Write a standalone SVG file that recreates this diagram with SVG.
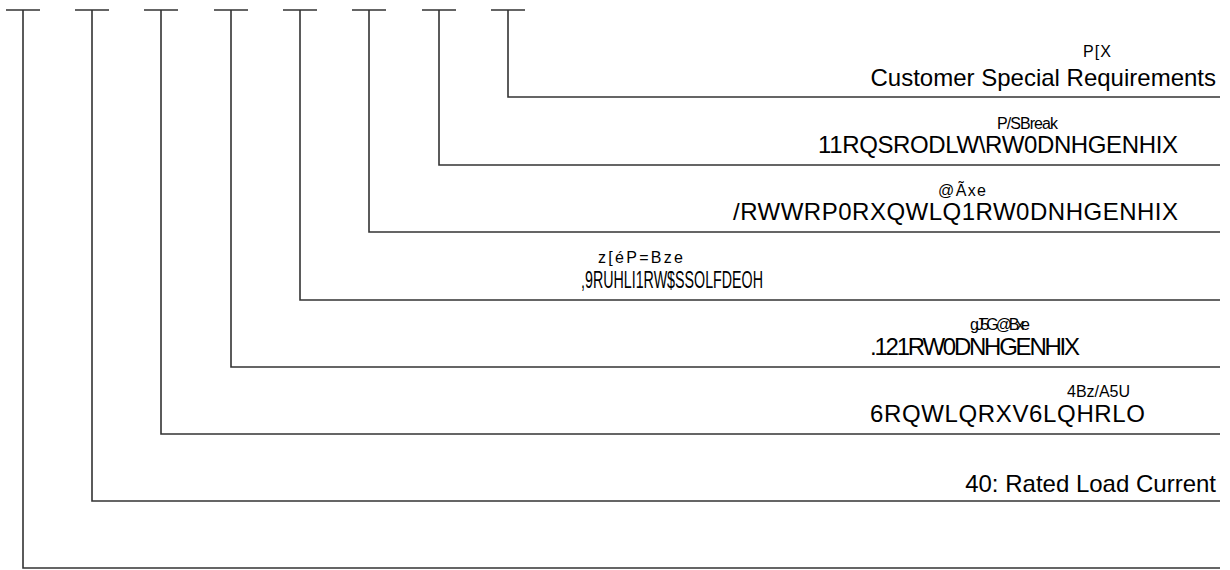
<svg xmlns="http://www.w3.org/2000/svg" width="1230" height="570" viewBox="0 0 1230 570">
<style>
.c{fill:none;stroke:#333;stroke-width:1.6}
.t{font-family:"Liberation Sans",Arial,sans-serif;font-size:24px;fill:#000}
.s{font-family:"Liberation Sans",Arial,sans-serif;font-size:16px;fill:#000}
</style>
<rect width="1230" height="570" fill="#fff"/>
<g id="connectors">
<path class="c" d="M6 10H40M23 10V568H1220"/>
<path class="c" d="M75 10H109M92 10V501H1220"/>
<path class="c" d="M144 10H178M161 10V434H1220"/>
<path class="c" d="M214 10H248M231 10V367H1220"/>
<path class="c" d="M283 10H317M300 10V300H1220"/>
<path class="c" d="M352 10H386M369 10V232H1220"/>
<path class="c" d="M422 10H456M439 10V165H1220"/>
<path class="c" d="M491 10H525M508 10V97H1220"/>
</g>
<g id="n1"><text class="t" x="1216" y="492" text-anchor="end">40: Rated Load Current</text></g>
<g id="n2"><text class="s" x="1067" y="397" textLength="63" lengthAdjust="spacing">4Bz/A5U</text>
<text class="t" x="870" y="422" textLength="275" lengthAdjust="spacing">6RQWLQRXV6LQHRLO</text></g>
<g id="n3"><text class="s" x="970" y="330" textLength="60" lengthAdjust="spacing">gJ5G@Bxe</text>
<text class="t" x="870" y="355" textLength="210" lengthAdjust="spacing">.121RW0DNHGENHIX</text></g>
<g id="n4"><text class="s" x="598" y="263" textLength="85" lengthAdjust="spacing">z[éP=Bze</text>
<text class="t" x="581" y="288" textLength="182" lengthAdjust="spacingAndGlyphs">,9RUHLI1RW$SSOLFDEOH</text></g>
<g id="n5"><text class="s" x="938" y="196" textLength="48" lengthAdjust="spacing">@Ãxe</text>
<text class="t" x="733" y="220" textLength="445" lengthAdjust="spacing">/RWWRP0RXQWLQ1RW0DNHGENHIX</text></g>
<g id="n6"><text class="s" x="997" y="129" textLength="61" lengthAdjust="spacing">P/SBreak</text>
<text class="t" x="818" y="153" textLength="360" lengthAdjust="spacing">11RQSRODLW\RW0DNHGENHIX</text></g>
<g id="n7"><text class="s" x="1083" y="57" textLength="28" lengthAdjust="spacing">P[X</text>
<text class="t" x="1216" y="86" text-anchor="end">Customer Special Requirements</text></g>
</svg>
